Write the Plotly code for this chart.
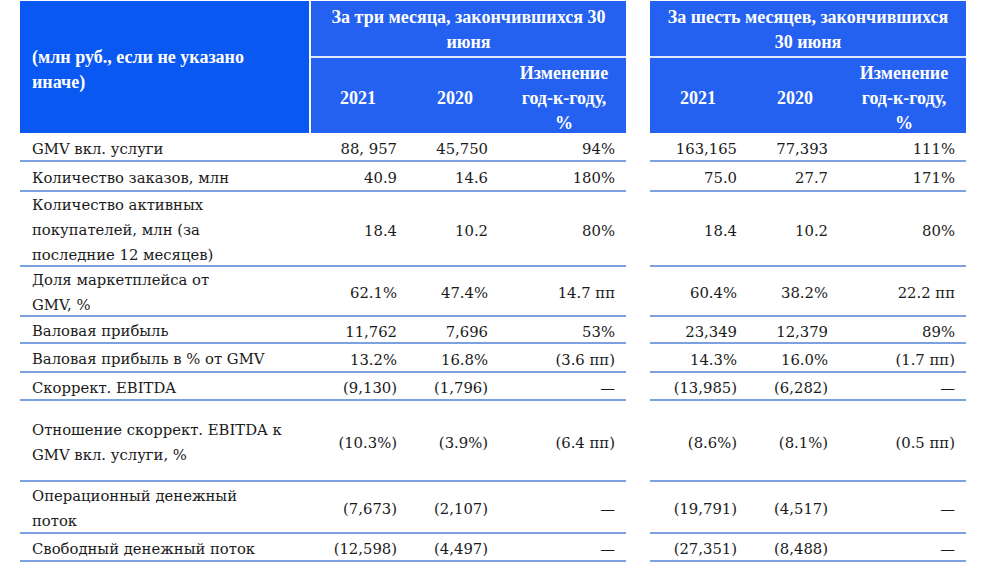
import plotly.graph_objects as go

# ---------------- data ----------------
header_left = ["(млн руб., если не указано", "иначе)"]
group_titles = [["За три месяца, закончившихся 30", "июня"],
                ["За шесть месяцев, закончившихся", "30 июня"]]
col_headers = [["2021"], ["2020"], ["Изменение", "год-к-году,", "%"]]

row_labels = [
    ["GMV вкл. услуги"],
    ["Количество заказов, млн"],
    ["Количество активных", "покупателей, млн (за", "последние 12 месяцев)"],
    ["Доля маркетплейса от", "GMV, %"],
    ["Валовая прибыль"],
    ["Валовая прибыль в % от GMV"],
    ["Скоррект. EBITDA"],
    ["Отношение скоррект. EBITDA к", "GMV вкл. услуги, %"],
    ["Операционный денежный", "поток"],
    ["Свободный денежный поток"],
]
q2_2021 = ["88, 957", "40.9", "18.4", "62.1%", "11,762", "13.2%", "(9,130)", "(10.3%)", "(7,673)", "(12,598)"]
q2_2020 = ["45,750", "14.6", "10.2", "47.4%", "7,696", "16.8%", "(1,796)", "(3.9%)", "(2,107)", "(4,497)"]
q2_yoy = ["94%", "180%", "80%", "14.7 пп", "53%", "(3.6 пп)", "—", "(6.4 пп)", "—", "—"]
h1_2021 = ["163,165", "75.0", "18.4", "60.4%", "23,349", "14.3%", "(13,985)", "(8.6%)", "(19,791)", "(27,351)"]
h1_2020 = ["77,393", "27.7", "10.2", "38.2%", "12,379", "16.0%", "(6,282)", "(8.1%)", "(4,517)", "(8,488)"]
h1_yoy = ["111%", "171%", "80%", "22.2 пп", "89%", "(1.7 пп)", "—", "(0.5 пп)", "—", "—"]

# ---------------- layout geometry (pixel-like axis units) ----------------
W, H = 986, 568
row_edges = [133, 161, 191, 266, 316, 343, 372, 400, 481, 533, 561]
label_x = 32
col_right = [397, 488, 615, 737, 828, 955]
col_center = [358, 455, 564, 698, 795, 904]
group_span = [(311, 626), (650, 966)]
left_span = (20, 309)
line_gap = 25
hdr_line_gap = 25
TEXT_DY = 2

LEFT_BLUE = "#0a58f2"
GROUP_BLUE = "#2461f0"
RULE = "#4f82d3"
BODY_FONT = dict(family="DejaVu Serif", size=14.8, color="#1a1a1a")
HDR_FONT = dict(family="Liberation Serif", size=18, color="white")

fig = go.Figure()
shapes = []

# header blocks
shapes.append(dict(type="rect", xref="x", yref="y", x0=left_span[0], x1=left_span[1],
                   y0=1, y1=row_edges[0], fillcolor=LEFT_BLUE, line=dict(width=0), layer="below"))
for (a, b) in group_span:
    shapes.append(dict(type="rect", xref="x", yref="y", x0=a, x1=b, y0=1, y1=row_edges[0],
                       fillcolor=GROUP_BLUE, line=dict(width=0), layer="below"))
    shapes.append(dict(type="line", xref="x", yref="y", x0=a, x1=b, y0=57, y1=57,
                       line=dict(color="#dfe8ff", width=2)))

# body rules
for y in row_edges[1:]:
    shapes.append(dict(type="line", xref="x", yref="y", x0=left_span[0], x1=group_span[0][1],
                       y0=y, y1=y, line=dict(color=RULE, width=1.5)))
    shapes.append(dict(type="line", xref="x", yref="y", x0=group_span[1][0], x1=group_span[1][1],
                       y0=y, y1=y, line=dict(color=RULE, width=1.5)))


def multiline_points(lines, xc, yc, gap):
    n = len(lines)
    ys = [yc + TEXT_DY + (i - (n - 1) / 2) * gap for i in range(n)]
    return [xc] * n, ys, lines


def add_text(xs, ys, texts, pos, font):
    fig.add_trace(go.Scatter(x=xs, y=ys, text=texts, mode="text", textposition=pos,
                             textfont=font, hoverinfo="skip", showlegend=False, cliponaxis=False))


hdr_bold = dict(HDR_FONT)
# left header
xs, ys, ts = multiline_points(header_left, label_x, 69, hdr_line_gap)
add_text(xs, ys, ["<b>%s</b>" % t for t in ts], "middle right", hdr_bold)

# group titles and column headers
for g, (a, b) in enumerate(group_span):
    xs, ys, ts = multiline_points(group_titles[g], (a + b) / 2, 29, hdr_line_gap)
    add_text(xs, ys, ["<b>%s</b>" % t for t in ts], "middle center", hdr_bold)
    for c, lines in enumerate(col_headers):
        xs, ys, ts = multiline_points(lines, col_center[g * 3 + c], 97, hdr_line_gap)
        add_text(xs, ys, ["<b>%s</b>" % t for t in ts], "middle center", hdr_bold)

# row labels
lx, ly, lt = [], [], []
for r, lines in enumerate(row_labels):
    yc = (row_edges[r] + row_edges[r + 1]) / 2 + 1
    xs, ys, ts = multiline_points(lines, label_x, yc, line_gap)
    lx += xs; ly += ys; lt += ts
add_text(lx, ly, lt, "middle right", BODY_FONT)

# values
columns = [q2_2021, q2_2020, q2_yoy, h1_2021, h1_2020, h1_yoy]
for c, vals in enumerate(columns):
    ys = [(row_edges[r] + row_edges[r + 1]) / 2 + 1.5 + TEXT_DY for r in range(len(vals))]
    add_text([col_right[c]] * len(vals), ys, vals, "middle left", BODY_FONT)

fig.update_layout(
    width=W, height=H,
    margin=dict(l=0, r=0, t=0, b=0),
    paper_bgcolor="white", plot_bgcolor="white",
    xaxis=dict(range=[0, W], visible=False, fixedrange=True),
    yaxis=dict(range=[H, 0], visible=False, fixedrange=True),
    shapes=shapes,
    hovermode=False,
)

fig.write_html("out.html",
               config={"displayModeBar": False, "staticPlot": True},
               post_script="document.body.style.margin='0';document.body.style.overflow='hidden';")
